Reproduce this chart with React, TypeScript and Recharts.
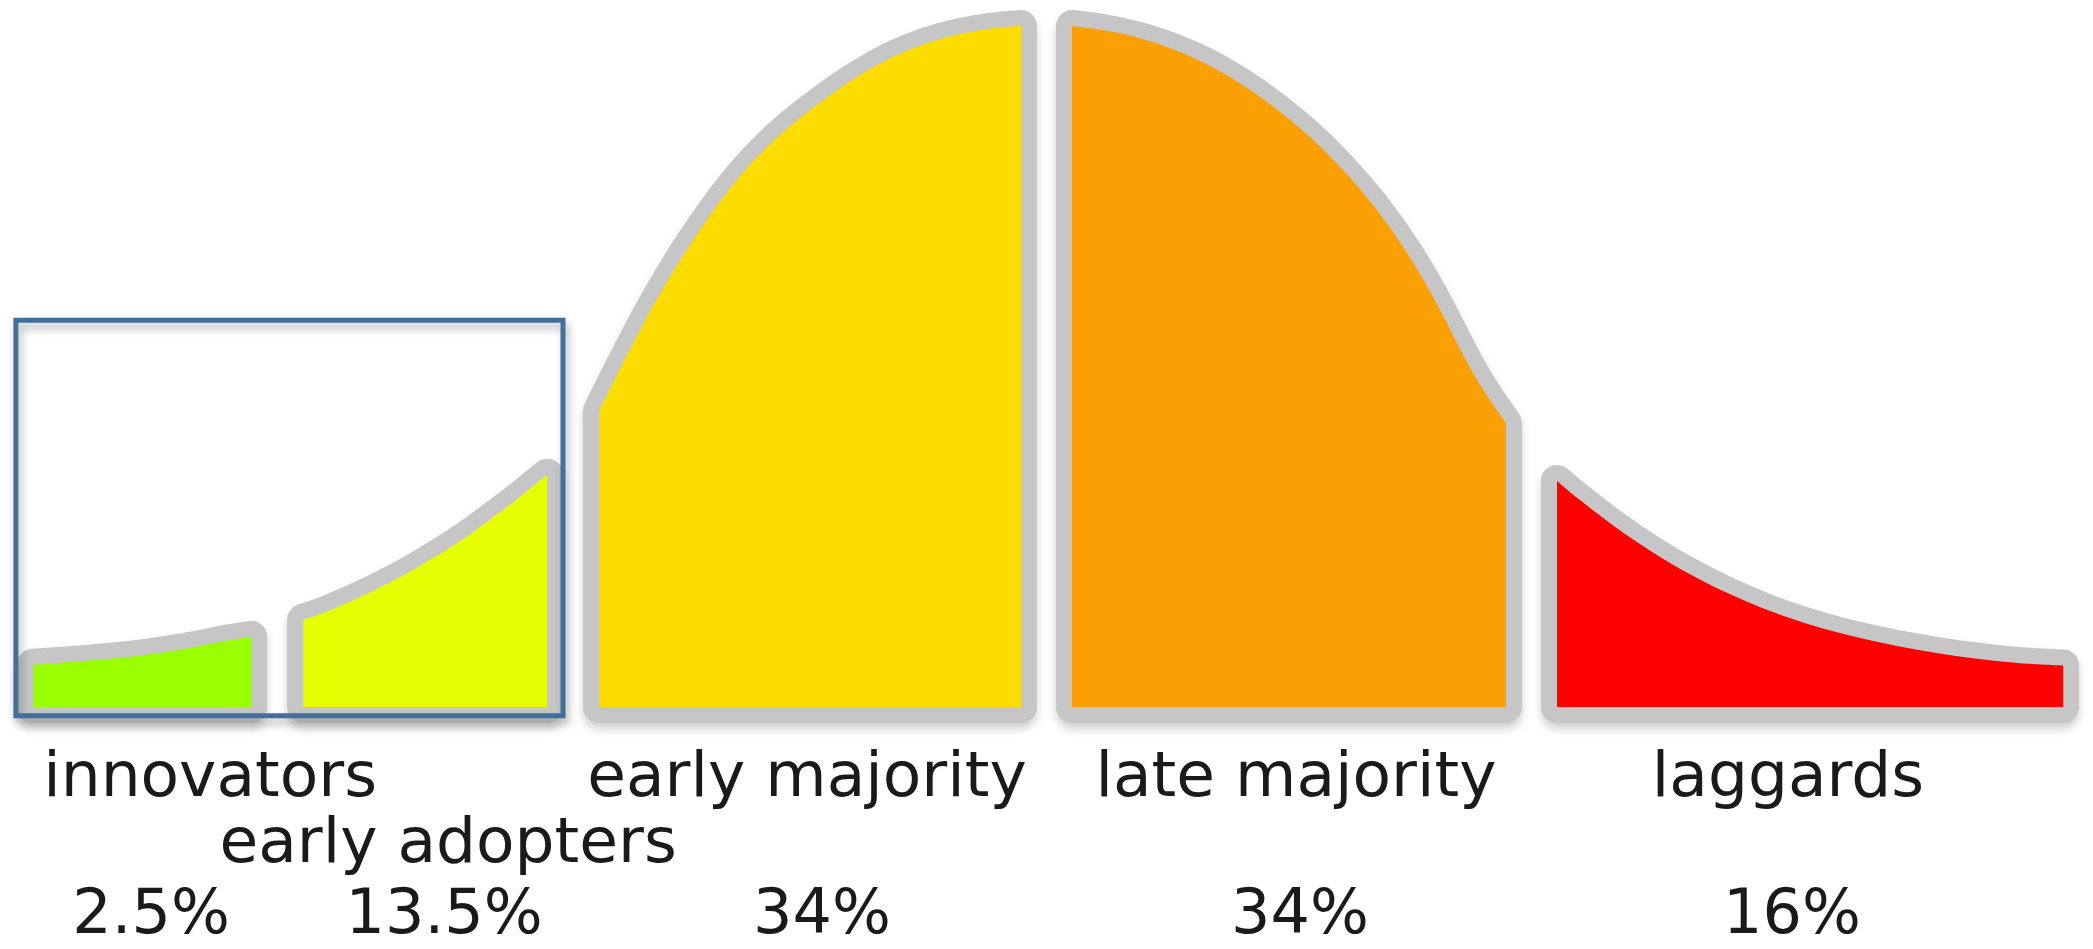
import { ComposedChart, Area, XAxis, YAxis, ReferenceArea } from "recharts";

// segment curves: x = position along the adoption axis (0-100),
// y = relative share of adopters (peak = 100)
const innovatorsX = [1.58, 3.92, 5.78, 7.12, 8.22, 9.13, 9.99, 10.7, 12.0];
const innovatorsY = [6.2, 6.7, 7.2, 7.7, 8.2, 8.7, 9.2, 9.7, 10.3];

const earlyAdoptersX = [14.48, 15.58, 17.49, 19.21, 20.11, 21.79, 22.89, 23.79, 24.7, 25.42, 26.14];
const earlyAdoptersY = [12.8, 13.9, 16.5, 19.2, 20.8, 23.9, 26.3, 28.4, 30.5, 32.3, 34.1];

const earlyMajorityX = [28.62, 29.96, 31.53, 33.11, 34.74, 36.31, 37.89, 39.51, 41.09, 42.67, 44.29, 45.87, 47.44, 48.78];
const earlyMajorityY = [43.5, 51.8, 60.9, 68.7, 75.8, 81.4, 85.8, 89.6, 92.9, 95.6, 97.6, 98.9, 99.7, 100];

const lateMajorityX = [51.22, 52.89, 54.47, 56.04, 57.67, 59.25, 60.82, 62.45, 64.02, 65.6, 67.22, 68.8, 70.38, 71.95];
const lateMajorityY = [100, 99.4, 98.3, 96.7, 94.5, 91.7, 88.3, 84.2, 79.5, 73.9, 67.0, 58.6, 48.5, 41.7];

const laggardsX = [74.39, 75.3, 77.07, 78.88, 80.7, 82.51, 84.33, 86.1, 87.91, 89.73, 91.54, 93.36, 95.18, 96.94, 98.57];
const laggardsY = [33.2, 30.8, 26.6, 22.8, 19.5, 16.7, 14.3, 12.4, 10.8, 9.5, 8.4, 7.5, 6.8, 6.3, 6.1];

const segmentNames = ["innovators", "early adopters", "early majority", "late majority", "laggards"];
const segmentShares = ["2.5%", "13.5%", "34%", "34%", "16%"];

// the box drawn round the first two groups
const highlightBox = { x1: 0.76, x2: 26.9, y1: -1.3, y2: 56.8 };

const segments = [
  { key: "innovators", xs: innovatorsX, ys: innovatorsY, color: "#99ff00" },
  { key: "earlyAdopters", xs: earlyAdoptersX, ys: earlyAdoptersY, color: "#e6ff00" },
  { key: "earlyMajority", xs: earlyMajorityX, ys: earlyMajorityY, color: "#fddc00" },
  { key: "lateMajority", xs: lateMajorityX, ys: lateMajorityY, color: "#fba004" },
  { key: "laggards", xs: laggardsX, ys: laggardsY, color: "#fe0000" },
];

// one row per sample, only the owning segment's key is set
const rows = segments.flatMap((s) => s.xs.map((x, i) => ({ x, [s.key]: s.ys[i] })));

// tick sits in the middle of each segment
const tickPositions = segments.map((s) => (s.xs[0] + s.xs[s.xs.length - 1]) / 2);

// label layout (pixels, relative to tick)
const nameRow = [0, 1, 0, 0, 0];
const nameDx = [68, 23, -3, 7, -22];
const shareDx = [9, 19, 12, 11, -18];
const rowDy = [89, 155];
const shareDy = 226;

const FONT = "'DejaVu Sans', Verdana, sans-serif";

function SegmentTick(props: any) {
  const { x, y, index } = props;
  return (
    <g>
      <text
        x={x + nameDx[index]}
        y={y + rowDy[nameRow[index]]}
        textAnchor="middle"
        fontFamily={FONT}
        fontSize={63}
        fill="#1a1a1a"
      >
        {segmentNames[index]}
      </text>
      <text
        x={x + shareDx[index]}
        y={y + shareDy}
        textAnchor="middle"
        fontFamily={FONT}
        fontSize={62}
        fill="#1a1a1a"
      >
        {segmentShares[index]}
      </text>
    </g>
  );
}

const css = `
body { margin: 0; }
.seg .recharts-area-area {
  stroke: #c6c6c6;
  stroke-width: 32px;
  stroke-linejoin: round;
  paint-order: stroke;
}
.seg { filter: drop-shadow(0px 6px 4px rgba(0,0,0,0.18)); }
.hbox { filter: drop-shadow(3px 6px 4px rgba(0,0,0,0.3)); }
`;

export default function App() {
  return (
    <div style={{ width: 2093, height: 949, background: "#fff" }}>
      <style>{css}</style>
      <ComposedChart width={2093} height={949} data={rows} margin={{ top: 26, right: 0, bottom: 0, left: 0 }}>
        <XAxis
          type="number"
          dataKey="x"
          domain={[0, 100]}
          ticks={tickPositions}
          interval={0}
          axisLine={false}
          tickLine={false}
          tickSize={0}
          tickMargin={0}
          height={242}
          tick={<SegmentTick />}
        />
        <YAxis hide domain={[0, 100]} width={0} />
        {segments.map((s) => (
          <Area
            key={s.key}
            className="seg"
            type="basis"
            dataKey={s.key}
            stroke="none"
            fill={s.color}
            fillOpacity={1}
            dot={false}
            activeDot={false}
            isAnimationActive={false}
          />
        ))}
        <ReferenceArea
          className="hbox"
          x1={highlightBox.x1}
          x2={highlightBox.x2}
          y1={highlightBox.y1}
          y2={highlightBox.y2}
          fill="none"
          fillOpacity={0}
          stroke="#41709c"
          strokeWidth={5}
          ifOverflow="visible"
        />
      </ComposedChart>
    </div>
  );
}
